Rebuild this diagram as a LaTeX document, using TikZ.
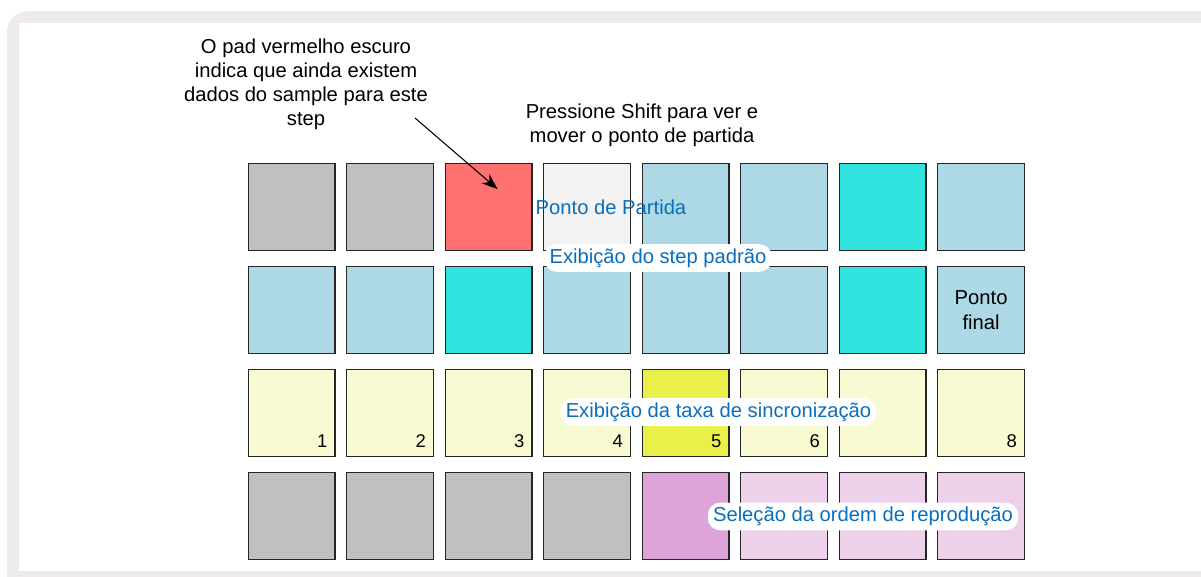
\documentclass[tikz,border=0pt]{standalone}
\usepackage{fontspec}
\setmainfont{Liberation Sans}
\usetikzlibrary{arrows.meta}
\definecolor{framegray}{HTML}{EFEBEB}
\definecolor{padgray}{HTML}{C0C0C0}
\definecolor{padred}{HTML}{FF7070}
\definecolor{padwhite}{HTML}{F2F2F2}
\definecolor{padblue}{HTML}{ADD8E6}
\definecolor{padcyan}{HTML}{30E3DF}
\definecolor{padyellow}{HTML}{FAFAD2}
\definecolor{padlime}{HTML}{EAF04A}
\definecolor{padplum}{HTML}{DCA4D8}
\definecolor{padpink}{HTML}{EDD0EA}
\definecolor{lblblue}{HTML}{0A6EBD}
\begin{document}
\begin{tikzpicture}[x=0.02cm,y=-0.02cm,>={Stealth[length=3.2mm,width=2.4mm]},
  pad/.style={draw=black!85,line width=.7pt,minimum size=1.74cm,inner sep=0pt,anchor=north west},
  padnum/.style={anchor=base east,inner sep=0pt,font=\fontsize{10.5}{12}\selectfont},
  note/.style={align=center,font=\fontsize{11.5}{13.7}\selectfont},
  lbl/.style={text=lblblue,inner sep=0pt,font=\fontsize{11.5}{13}\selectfont},
  lblpill/.style={lbl,fill=white,rounded corners=7pt,inner xsep=3pt,inner ysep=2.5pt}]
\useasboundingbox (0,0) rectangle (1201,576);
\begin{scope}
\clip (0,0) rectangle (1201,576);
\fill[framegray,rounded corners=12pt] (7,11) rectangle (1260,620);
\fill[white] (19,23) rectangle (1201,571);
\end{scope}
% pads, row by row
\foreach \col [count=\c] in {padgray,padgray,padred,padwhite,padblue,padblue,padcyan,padblue}
  \node[pad,fill=\col] (p1-\c) at ({247.5+98.5*(\c-1)},163) {};
\foreach \col [count=\c] in {padblue,padblue,padcyan,padblue,padblue,padblue,padcyan,padblue}
  \node[pad,fill=\col] (p2-\c) at ({247.5+98.5*(\c-1)},266) {};
\foreach \col/\num [count=\c] in {padyellow/1,padyellow/2,padyellow/3,padyellow/4,padlime/5,padyellow/6,padyellow/{},padyellow/8}{
  \node[pad,fill=\col] (p3-\c) at ({247.5+98.5*(\c-1)},369) {};
  \node[padnum] (n\c) at ([shift={(-8,-10)}]p3-\c.south east) {\num};
}
\foreach \col [count=\c] in {padgray,padgray,padgray,padgray,padplum,padpink,padpink,padpink}
  \node[pad,fill=\col] (p4-\c) at ({247.5+98.5*(\c-1)},472) {};
\node[note,font=\fontsize{11.5}{14.5}\selectfont] (endNote) at (p2-8.center) {Ponto\\final};
% notes and arrow
\node[note] (redNote) at (306,84) {O pad vermelho escuro\\indica que ainda existem\\dados do sample para este\\step};
\node[note] (shiftNote) at (642,125) {Pressione Shift para ver e\\mover o ponto de partida};
\coordinate (arrowTail) at (415,118);
\coordinate (arrowTip) at ([shift={(9,-18)}]p1-3.center);
\draw[->,line width=.6pt] (arrowTail) -- (arrowTip);
% blue labels
\node[lbl] (startLbl) at (611,207) {Ponto de Partida};
\node[lblpill] (stepLbl) at (658,258) {Exibição do step padrão};
\node[lblpill] (syncLbl) at (718.5,412) {Exibição da taxa de sincronização};
\node[lblpill] (orderLbl) at (863,516.5) {Seleção da ordem de reprodução};
\end{tikzpicture}
\end{document}
